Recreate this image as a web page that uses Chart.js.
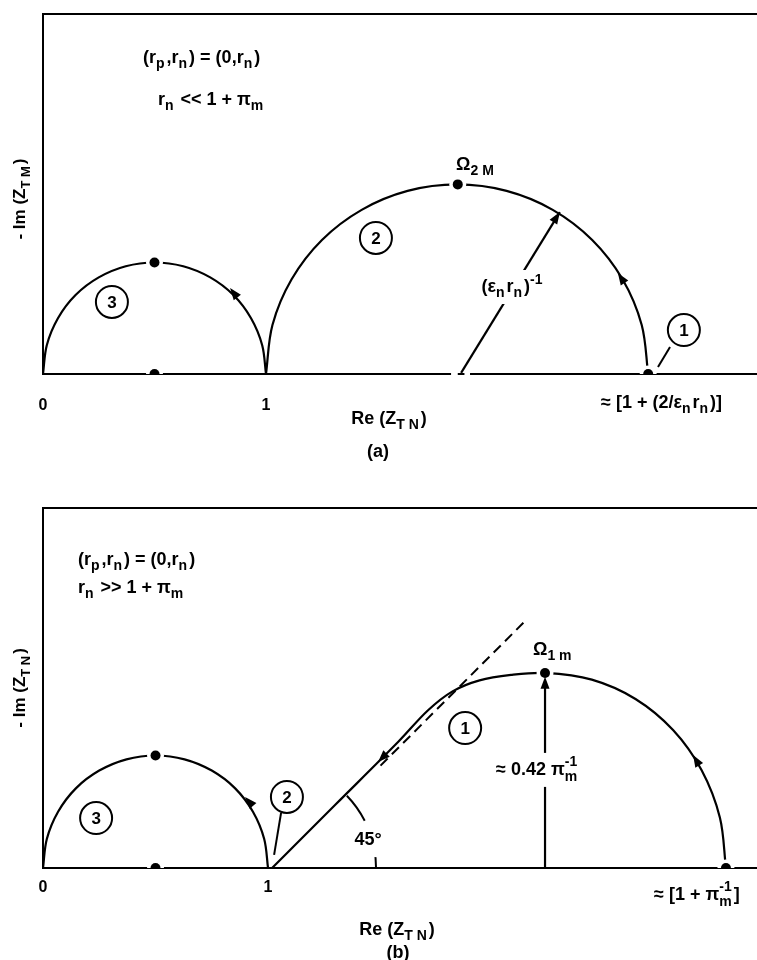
<!DOCTYPE html>
<html>
<head>
<meta charset="utf-8">
<script src="https://cdn.jsdelivr.net/npm/chart.js@4.4.1/dist/chart.umd.min.js"></script>
<style>
  body { margin: 0; background: #fff; }
  canvas { display: block; }
</style>
</head>
<body>
<canvas id="chartA" width="757" height="470"></canvas>
<canvas id="chartB" width="757" height="490"></canvas>
<script>
// ---- panel (a): r_n << 1 + pi_m ----
const ticksA = [0, 1];
const arc3A = [[1, 0], [0.983, 0.129], [0.933, 0.25], [0.854, 0.354], [0.75, 0.433], [0.629, 0.483], [0.5, 0.5],
  [0.371, 0.483], [0.25, 0.433], [0.146, 0.354], [0.067, 0.25], [0.017, 0.129], [0, 0]];
const arc2A = [[2.714, 0], [2.685, 0.22], [2.599, 0.425], [2.463, 0.601], [2.286, 0.736], [2.079, 0.821], [1.857, 0.85],
  [1.635, 0.821], [1.429, 0.736], [1.251, 0.601], [1.115, 0.425], [1.029, 0.22], [1, 0]];
const radiusA = [[1.875, 0.005], [2.318, 0.726]];
const dotsA = [[0.5, 0.5], [0.5, 0], [1.86, 0.85], [2.714, 0]];

// ---- panel (b): r_n >> 1 + pi_m ----
const ticksB = [0, 1];
const arc3B = [[1, 0], [0.983, 0.129], [0.933, 0.25], [0.854, 0.354], [0.75, 0.433], [0.629, 0.483], [0.5, 0.5],
  [0.371, 0.483], [0.25, 0.433], [0.146, 0.354], [0.067, 0.25], [0.017, 0.129], [0, 0]];
const arc1B = [[3.035, 0], [3.008, 0.224], [2.927, 0.434], [2.8, 0.613], [2.633, 0.751], [2.439, 0.837], [2.231, 0.867],
  [2.08, 0.858], [1.94, 0.834], [1.82, 0.785], [1.71, 0.7], [1.58, 0.562], [1.3, 0.282], [1.018, 0]];
const asymptoteB = [[1.5, 0.455], [2.14, 1.095]];
const heightB = [[2.231, 0], [2.231, 0.845]];
const dotsB = [[0.5, 0.5], [0.5, 0], [2.231, 0.867], [3.035, 0]];

const FONT = '"Liberation Sans", Arial, sans-serif';
const toXY = pts => pts.map(([x, y]) => ({ x, y }));

function curve(pts, extra) {
  return Object.assign({
    data: toXY(pts), showLine: true, borderColor: '#000', borderWidth: 2.2,
    pointRadius: 0, tension: 0.34, fill: false, order: 3
  }, extra || {});
}

function dotSets(pts) {
  return [
    { data: toXY(pts), showLine: false, pointRadius: 8.5, pointBackgroundColor: '#fff', pointBorderWidth: 0, order: 2 },
    { data: toXY(pts), showLine: false, pointRadius: 5, pointBackgroundColor: '#000', pointBorderWidth: 0, order: 1 }
  ];
}

// text with sub/superscripts: strings are plain, {sub}, {sup}, {both:[sub, sup]}
function drawRich(ctx, x, y, parts, align, size, bg) {
  const big = `bold ${size}px ${FONT}`;
  const small = `bold ${Math.round(size * 0.76)}px ${FONT}`;
  const segs = parts.map(p => {
    if (typeof p === 'string') {
      ctx.font = big;
      return { w: ctx.measureText(p).width, items: [{ t: p, f: big, dy: 0 }] };
    }
    ctx.font = small;
    if (p.sub) return { w: ctx.measureText(p.sub).width + 2, items: [{ t: p.sub, f: small, dy: 6 }] };
    if (p.sup) return { w: ctx.measureText(p.sup).width + 2, items: [{ t: p.sup, f: small, dy: -7 }] };
    const w = Math.max(ctx.measureText(p.both[0]).width, ctx.measureText(p.both[1]).width) + 2;
    return { w, items: [{ t: p.both[0], f: small, dy: 7 }, { t: p.both[1], f: small, dy: -8 }] };
  });
  const total = segs.reduce((s, g) => s + g.w, 0);
  let cx = align === 'center' ? x - total / 2 : x;
  if (bg) {
    ctx.fillStyle = '#fff';
    ctx.fillRect(cx - 4, y - 17, total + 8, 34);
    ctx.fillStyle = '#000';
  }
  ctx.textAlign = 'left';
  ctx.textBaseline = 'middle';
  segs.forEach(g => {
    g.items.forEach(it => { ctx.font = it.f; ctx.fillText(it.t, cx + 1, y + it.dy); });
    cx += g.w;
  });
}

const sketch = {
  id: 'sketch',
  afterDatasetsDraw(chart, args, opts) {
    const { ctx, chartArea: a, scales: { x, y } } = chart;
    const px = v => x.getPixelForValue(v), py = v => y.getPixelForValue(v);
    ctx.save();
    ctx.strokeStyle = '#000';
    ctx.fillStyle = '#000';
    ctx.lineWidth = 2;

    // top edge of the frame
    ctx.beginPath();
    ctx.moveTo(a.left - 1, a.top);
    ctx.lineTo(a.right, a.top);
    ctx.stroke();

    // breaks in the real axis
    (opts.gaps || []).forEach(([x1, x2]) => {
      ctx.fillStyle = '#fff';
      ctx.fillRect(px(x1), a.bottom - 3, px(x2) - px(x1), 6);
      ctx.fillStyle = '#000';
    });

    (opts.angles || []).forEach(([cx, cy, r, from, to]) => {
      ctx.beginPath();
      ctx.arc(px(cx), py(cy), px(cx + r) - px(cx), -to * Math.PI / 180, -from * Math.PI / 180);
      ctx.stroke();
    });

    (opts.leaders || []).forEach(([x1, y1, x2, y2]) => {
      ctx.beginPath();
      ctx.moveTo(px(x1), py(y1));
      ctx.lineTo(px(x2), py(y2));
      ctx.stroke();
    });

    (opts.heads || []).forEach(([x1, y1, x2, y2]) => {
      const X2 = px(x2), Y2 = py(y2);
      const ang = Math.atan2(Y2 - py(y1), X2 - px(x1));
      ctx.save();
      ctx.translate(X2, Y2);
      ctx.rotate(ang);
      ctx.beginPath();
      ctx.moveTo(0, 0);
      ctx.lineTo(-12, -4.5);
      ctx.lineTo(-12, 4.5);
      ctx.closePath();
      ctx.fill();
      ctx.restore();
    });

    (opts.circled || []).forEach(([cx, cy, n]) => {
      ctx.beginPath();
      ctx.arc(px(cx), py(cy), 16, 0, Math.PI * 2);
      ctx.fillStyle = '#fff';
      ctx.fill();
      ctx.stroke();
      ctx.fillStyle = '#000';
      ctx.font = `bold 17px ${FONT}`;
      ctx.textAlign = 'center';
      ctx.textBaseline = 'middle';
      ctx.fillText(n, px(cx), py(cy) + 1);
    });

    (opts.texts || []).forEach(t => {
      drawRich(ctx, px(t.at[0]), py(t.at[1]), t.parts, t.align || 'left', t.size || 18, t.bg);
    });

    if (opts.yTitle) {
      ctx.save();
      ctx.translate(a.left - 23, py(opts.yTitle.at));
      ctx.rotate(-Math.PI / 2);
      drawRich(ctx, 0, 0, opts.yTitle.parts, 'center', 17, false);
      ctx.restore();
    }
    ctx.restore();
  }
};

function makeChart(id, datasets, range, ticks, tickPad, axisH, topPad, notes) {
  return new Chart(document.getElementById(id), {
    type: 'scatter',
    data: { datasets },
    plugins: [sketch],
    options: {
      responsive: false,
      animation: false,
      events: [],
      layout: { autoPadding: false, padding: { left: 43, top: topPad, right: 0, bottom: 0 } },
      plugins: { legend: { display: false }, tooltip: { enabled: false }, sketch: notes },
      scales: {
        x: {
          type: 'linear', min: 0, max: range[0],
          afterBuildTicks: s => { s.ticks = ticks.map(value => ({ value })); },
          afterFit: s => { s.height = axisH; s.paddingLeft = 0; s.paddingRight = 0; },
          grid: { display: false, drawTicks: false },
          border: { color: '#000', width: 2 },
          ticks: { padding: tickPad, color: '#000', autoSkip: false, maxRotation: 0,
                   font: { family: FONT, size: 16, weight: 'bold' } }
        },
        y: {
          type: 'linear', min: 0, max: range[1],
          afterFit: s => { s.width = 0; s.paddingTop = 0; s.paddingBottom = 0; },
          grid: { display: false, drawTicks: false },
          border: { color: '#000', width: 2 },
          ticks: { display: false }
        }
      }
    }
  });
}

makeChart('chartA', [
  curve(arc3A), curve(arc2A), curve(radiusA, { tension: 0 }), ...dotSets(dotsA)
], [3.202, 1.614], ticksA, 22, 96, 14, {
  gaps: [[1.83, 1.86], [1.89, 1.915]],
  heads: [[0.87, 0.345, 0.839, 0.386], [2.6, 0.42, 2.578, 0.453], [2.25, 0.62, 2.318, 0.726]],
  leaders: [[2.812, 0.121, 2.758, 0.031]],
  circled: [[0.309, 0.323, '3'], [1.493, 0.61, '2'], [2.874, 0.197, '1']],
  texts: [
    { at: [0.444, 1.417], parts: ['(r', { sub: 'p' }, ',r', { sub: 'n' }, ') = (0,r', { sub: 'n' }, ')'] },
    { at: [0.511, 1.229], parts: ['r', { sub: 'n' }, ' << 1 + π', { sub: 'm' }] },
    { at: [1.848, 0.937], parts: ['Ω', { sub: '2 M' }] },
    { at: [2.103, 0.39], parts: ['(ε', { sub: 'n' }, 'r', { sub: 'n' }, ')', { sup: '-1' }], align: 'center', bg: true },
    { at: [2.498, -0.13], parts: ['≈ [1 + (2/ε', { sub: 'n' }, 'r', { sub: 'n' }, ')]'] },
    { at: [1.547, -0.202], parts: ['Re (Z', { sub: 'T N' }, ')'], align: 'center' },
    { at: [1.498, -0.35], parts: ['(a)'], align: 'center' }
  ],
  yTitle: { at: 0.78, parts: ['- Im (Z', { sub: 'T M' }, ')'] }
});

makeChart('chartB', [
  curve(arc3B), curve(arc1B), curve(heightB, { tension: 0 }),
  curve(asymptoteB, { tension: 0, borderWidth: 2, borderDash: [10, 6] }), ...dotSets(dotsB)
], [3.173, 1.6], ticksB, 10, 92, 38, {
  angles: [[1.018, 0, 0.462, 27, 44], [1.018, 0, 0.462, 0, 11]],
  heads: [[0.93, 0.28, 0.898, 0.316], [2.905, 0.475, 2.889, 0.502], [1.52, 0.502, 1.489, 0.471],
          [2.231, 0.8, 2.231, 0.85]],
  leaders: [[1.058, 0.245, 1.027, 0.058]],
  circled: [[0.236, 0.222, '3'], [1.084, 0.316, '2'], [1.876, 0.622, '1']],
  texts: [
    { at: [0.151, 1.369], parts: ['(r', { sub: 'p' }, ',r', { sub: 'n' }, ') = (0,r', { sub: 'n' }, ')'] },
    { at: [0.151, 1.244], parts: ['r', { sub: 'n' }, ' >> 1 + π', { sub: 'm' }] },
    { at: [2.173, 0.969], parts: ['Ω', { sub: '1 m' }] },
    { at: [2.009, 0.436], parts: ['≈ 0.42 π', { both: ['m', '-1'] }], bg: true },
    { at: [1.44, 0.124], parts: ['45°'], align: 'center', bg: true },
    { at: [2.711, -0.12], parts: ['≈ [1 + π', { both: ['m', '-1'] }, ']'] },
    { at: [1.569, -0.276], parts: ['Re (Z', { sub: 'T N' }, ')'], align: 'center' },
    { at: [1.573, -0.378], parts: ['(b)'], align: 'center' }
  ],
  yTitle: { at: 0.796, parts: ['- Im (Z', { sub: 'T N' }, ')'] }
});
</script>
</body>
</html>
